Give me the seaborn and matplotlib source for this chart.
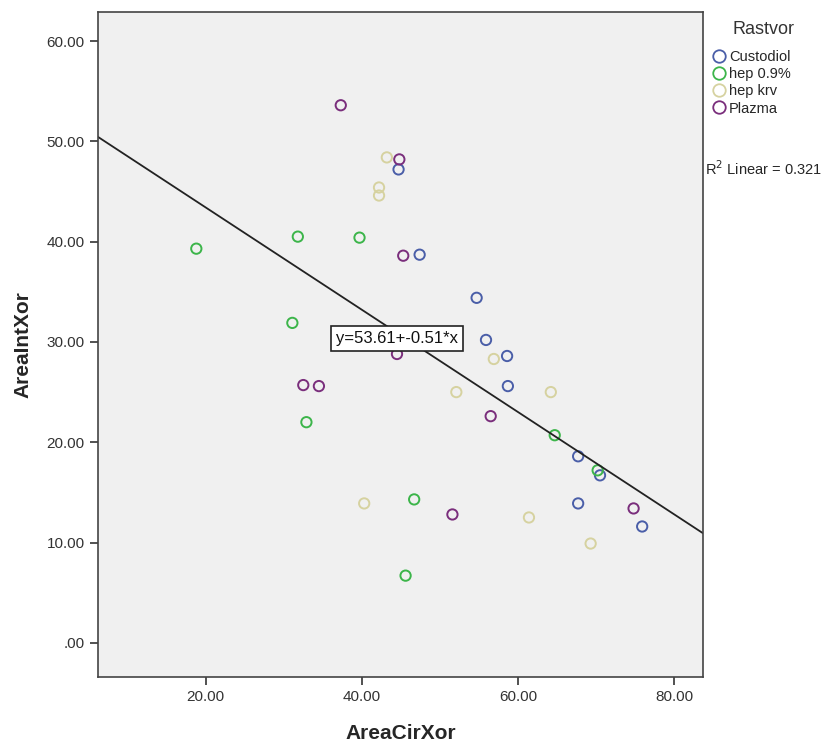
import pandas as pd
import matplotlib
matplotlib.use('Agg')
import matplotlib.pyplot as plt
import seaborn as sns
from matplotlib.lines import Line2D

# values
cust_x = [44.7, 47.4, 54.7, 55.9, 58.6, 58.7, 67.7, 70.5, 67.7, 75.9]
cust_y = [47.2, 38.7, 34.4, 30.2, 28.6, 25.6, 18.6, 16.7, 13.9, 11.6]
hep09_x = [18.8, 31.8, 39.7, 31.1, 32.9, 64.7, 70.2, 46.7, 45.6]
hep09_y = [39.3, 40.5, 40.4, 31.9, 22.0, 20.7, 17.2, 14.3, 6.7]
hepkrv_x = [43.2, 42.2, 42.2, 56.9, 52.1, 64.2, 40.3, 61.4, 69.3]
hepkrv_y = [48.4, 45.4, 44.6, 28.3, 25.0, 25.0, 13.9, 12.5, 9.9]
plazma_x = [37.3, 44.8, 45.3, 44.5, 32.5, 34.5, 56.5, 51.6, 74.8]
plazma_y = [53.6, 48.2, 38.6, 28.8, 25.7, 25.6, 22.6, 12.8, 13.4]

groups = ['Custodiol', 'hep 0.9%', 'hep krv', 'Plazma']
colors = ['#4a5ea8', '#3cb54a', '#d6d2a0', '#7a2e7c']
intercept = 53.61
slope = -0.51
r2 = 0.321

df = pd.concat([
    pd.DataFrame({'AreaCirXor': cust_x, 'AreaIntXor': cust_y, 'Rastvor': 'Custodiol'}),
    pd.DataFrame({'AreaCirXor': hep09_x, 'AreaIntXor': hep09_y, 'Rastvor': 'hep 0.9%'}),
    pd.DataFrame({'AreaCirXor': hepkrv_x, 'AreaIntXor': hepkrv_y, 'Rastvor': 'hep krv'}),
    pd.DataFrame({'AreaCirXor': plazma_x, 'AreaIntXor': plazma_y, 'Rastvor': 'Plazma'}),
], ignore_index=True)

sns.set_style('ticks')
plt.rcParams['font.family'] = ['Liberation Sans', 'DejaVu Sans']

fig = plt.figure(figsize=(8.37, 7.48), dpi=100)
ax = fig.add_axes([0.117, 0.095, 0.723, 0.889])
ax.set_facecolor('#f0f0f0')

sns.scatterplot(data=df, x='AreaCirXor', y='AreaIntXor', hue='Rastvor',
                hue_order=groups, palette=colors, s=55, linewidth=1.4,
                legend=False, ax=ax)
for coll in ax.collections:
    fc = coll.get_facecolors()
    coll.set_edgecolors(fc)
    coll.set_facecolors('none')

ax.axline((0, intercept), slope=slope, color='#222222', lw=1.3)
ax.text(44.5, 30.3, f'y={intercept:.2f}+{slope:.2f}*x', ha='center', va='center',
        fontsize=12, color='#111111',
        bbox=dict(boxstyle='square,pad=0.3', fc='white', ec='#222222', lw=1.2))

ax.set_xlim(6.2, 83.7)
ax.set_ylim(-3.4, 62.9)
ax.set_xticks([20, 40, 60, 80])
ax.set_yticks([0, 10, 20, 30, 40, 50, 60])
ax.set_xticklabels(['20.00', '40.00', '60.00', '80.00'])
ax.set_yticklabels(['.00', '10.00', '20.00', '30.00', '40.00', '50.00', '60.00'])
ax.tick_params(labelsize=11, colors='#333333', length=6, width=1.2)
for sp in ax.spines.values():
    sp.set_visible(True)
    sp.set_color('#444444')
    sp.set_linewidth(1.2)
ax.set_xlabel('AreaCirXor', fontsize=15, fontweight='bold', labelpad=14)
ax.set_ylabel('AreaIntXor', fontsize=15, fontweight='bold', labelpad=10)

# legend outside the plot, SPSS style
fig.text(0.912, 0.96, 'Rastvor', fontsize=13, ha='center', va='center', color='#333333')
handles = [Line2D([], [], marker='o', ls='none', mfc='none', mec=c, ms=9, mew=1.3)
           for c in colors]
fig.legend(handles, groups, loc='upper left',
           bbox_to_anchor=(0.838, 0.945), frameon=False, fontsize=10.5,
           handletextpad=0.1, labelspacing=0.22,
           handlelength=1.2, borderaxespad=0.2)
fig.text(0.842, 0.775, f'R$^2$ Linear = {r2}', fontsize=10.5, va='center')

fig.savefig('out.png', dpi=100)
